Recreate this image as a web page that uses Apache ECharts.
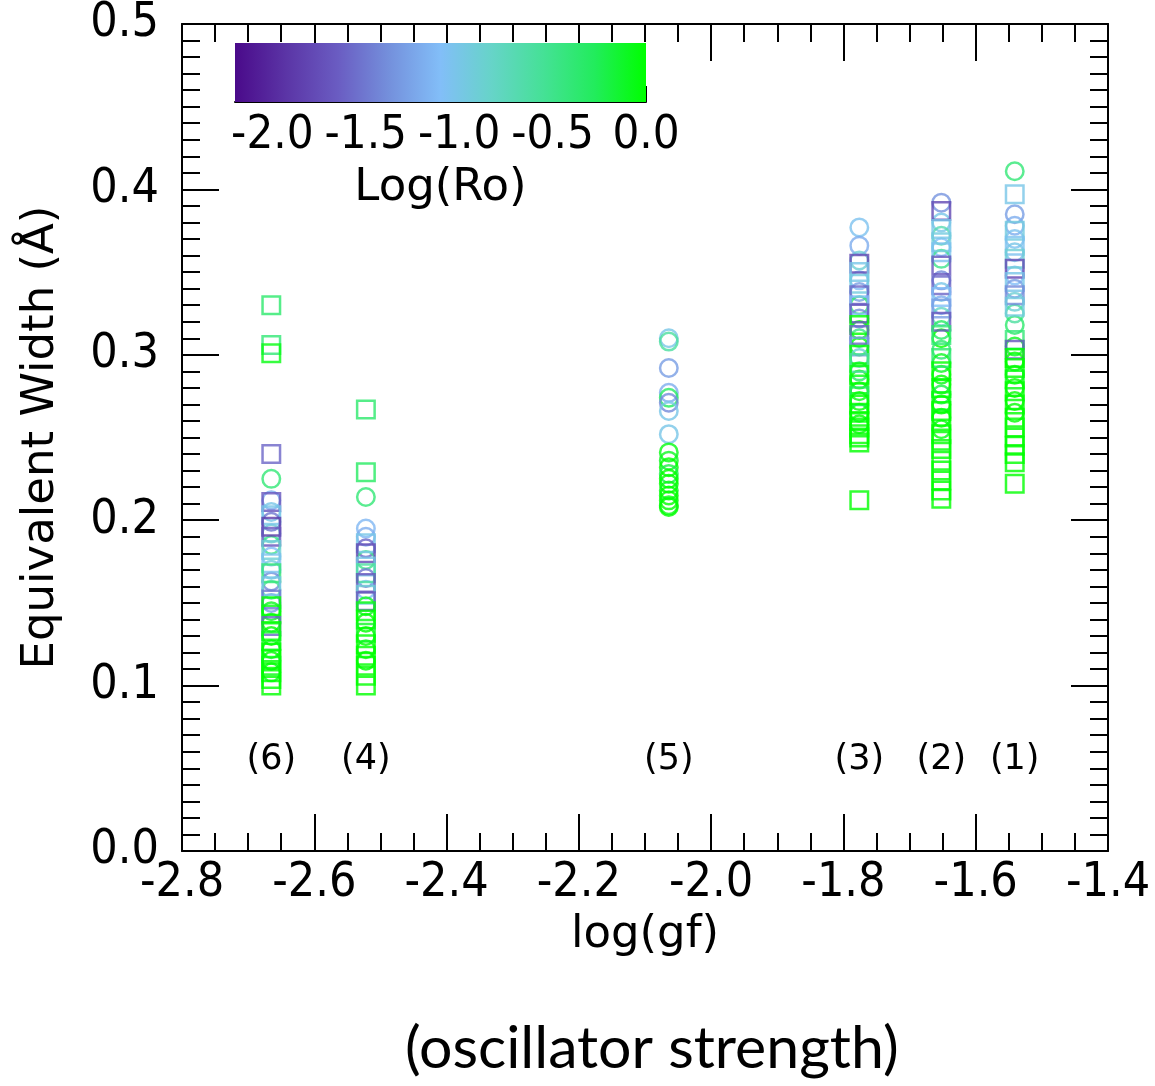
<!DOCTYPE html>
<html>
<head>
<meta charset="utf-8">
<script src="https://cdn.jsdelivr.net/npm/echarts@6/dist/echarts.min.js"></script>
<style>
  html, body { margin: 0; padding: 0; background: #ffffff; }
  #chart { width: 1155px; height: 1086px; }
</style>
</head>
<body>
<div id="chart"></div>
<script>
// Line positions (log gf) and their identifiers
const lineX = [-2.665, -2.522, -2.064, -1.776, -1.652, -1.541];
const lineLabels = ['(6)', '(4)', '(5)', '(3)', '(2)', '(1)'];
const lineLabelY = 0.055;

// Measurements per line: [equivalent width (Å), log(Ro)]
// circles and squares are two separate samples
const circles6 = [[0.225,-0.4],[0.212,-1.2],[0.205,-1.0],[0.199,-1.5],[0.192,-0.9],[0.185,-0.5],[0.178,-1.1],[0.170,-0.95],[0.163,-1.4],[0.158,-0.6],[0.150,-1.3],[0.145,-0.1],[0.138,-0.05],[0.130,0.0],[0.122,-0.1],[0.115,0.0],[0.108,-0.05]];
const squares6 = [[0.330,-0.35],[0.306,-0.4],[0.301,-0.05],[0.240,-1.6],[0.211,-1.7],[0.203,-1.0],[0.196,-1.9],[0.190,-1.7],[0.182,-0.9],[0.174,-1.05],[0.168,-0.4],[0.160,-1.0],[0.152,-1.5],[0.148,0.0],[0.143,-0.05],[0.136,-1.6],[0.133,0.0],[0.127,-0.1],[0.120,0.0],[0.116,0.0],[0.112,-0.05],[0.108,0.0],[0.104,0.0],[0.100,0.0]];

const circles4 = [[0.214,-0.4],[0.195,-1.15],[0.190,-1.2],[0.183,-1.6],[0.176,-0.5],[0.165,-1.5],[0.158,-1.1],[0.148,-0.1],[0.138,0.0],[0.130,0.0],[0.122,-0.05],[0.115,0.0]];
const squares4 = [[0.267,-0.35],[0.229,-0.3],[0.186,-1.0],[0.180,-1.8],[0.172,-1.0],[0.168,-0.6],[0.162,-1.7],[0.155,-0.9],[0.151,-1.7],[0.145,-0.05],[0.140,0.0],[0.132,-0.1],[0.125,0.0],[0.118,0.0],[0.112,0.0],[0.106,0.0],[0.100,0.0]];

const circles5 = [[0.310,-1.0],[0.308,-0.6],[0.292,-1.3],[0.277,-1.2],[0.274,-0.3],[0.271,-1.4],[0.266,-1.0],[0.252,-1.0],[0.241,-0.05],[0.236,-0.1],[0.232,0.0],[0.228,-0.2],[0.225,0.0],[0.222,0.0],[0.218,-0.05],[0.215,0.0],[0.212,0.0],[0.209,-0.05],[0.208,0.0]];
const squares5 = [];

const circles3 = [[0.377,-1.05],[0.366,-1.2],[0.357,-0.9],[0.345,-1.1],[0.338,-1.3],[0.330,-0.4],[0.322,-1.4],[0.315,0.0],[0.310,-0.5],[0.305,-0.05],[0.298,-0.9],[0.290,-0.3],[0.285,0.0],[0.278,-0.05],[0.272,0.0],[0.265,-0.1],[0.258,0.0]];
const squares3 = [[0.355,-1.8],[0.350,-1.0],[0.343,-0.95],[0.336,-1.6],[0.330,-1.1],[0.325,-1.7],[0.318,0.0],[0.312,-1.6],[0.305,-1.3],[0.300,0.0],[0.295,-0.6],[0.288,0.0],[0.282,-0.05],[0.275,-0.3],[0.270,0.0],[0.265,0.0],[0.260,0.0],[0.256,0.0],[0.252,0.0],[0.250,0.0],[0.247,0.0],[0.212,0.0]];

const circles2 = [[0.392,-1.35],[0.380,-1.0],[0.372,-0.7],[0.365,-1.1],[0.358,-0.5],[0.345,-1.4],[0.338,-1.0],[0.330,-1.2],[0.323,-0.8],[0.315,-0.3],[0.310,0.0],[0.303,-0.35],[0.295,-0.1],[0.288,-0.05],[0.282,0.0],[0.276,-0.2],[0.270,0.0],[0.262,0.0],[0.255,-0.05]];
const squares2 = [[0.387,-1.8],[0.376,-1.0],[0.368,-0.95],[0.362,-1.05],[0.354,-1.7],[0.342,-1.6],[0.335,-1.1],[0.328,-1.3],[0.320,-1.7],[0.312,-0.4],[0.298,-0.35],[0.290,0.0],[0.280,0.0],[0.272,-0.05],[0.266,0.0],[0.260,0.0],[0.252,0.0],[0.248,0.0],[0.243,0.0],[0.236,0.0],[0.230,0.0],[0.224,0.0],[0.218,0.0],[0.213,0.0]];

const circles1 = [[0.411,-0.4],[0.385,-1.3],[0.378,-1.2],[0.370,-1.05],[0.362,-1.0],[0.348,-1.1],[0.340,-1.3],[0.332,-0.9],[0.325,-0.6],[0.318,-0.35],[0.305,-0.1],[0.296,0.0],[0.288,-0.05],[0.280,0.0],[0.272,0.0],[0.265,0.0]];
const squares1 = [[0.397,-1.0],[0.375,-0.95],[0.366,-1.05],[0.358,-0.9],[0.352,-1.8],[0.344,-1.0],[0.336,-1.4],[0.329,-0.95],[0.309,-0.4],[0.303,-1.7],[0.298,0.0],[0.292,0.0],[0.285,-0.05],[0.278,0.0],[0.270,0.0],[0.262,0.0],[0.256,0.0],[0.250,0.0],[0.245,0.0],[0.240,0.0],[0.235,0.0],[0.222,0.0]];

const circleSets = [circles6, circles4, circles5, circles3, circles2, circles1];
const squareSets = [squares6, squares4, squares5, squares3, squares2, squares1];

// Colour scale for log(Ro)
const roMin = -2.2, roMax = 0.0;
const roColors = ['#4a0a8a', '#5b35a6', '#6a5cc2', '#7490dc', '#82bef8', '#66d4c8', '#45e196', '#22ec5c', '#00ff00'];
const roMajorTicks = [-2.0, -1.5, -1.0, -0.5, 0.0];
const roMinorTicks = [-2.1, -1.9, -1.8, -1.7, -1.6, -1.4, -1.3, -1.2, -1.1, -0.9, -0.8, -0.7, -0.6, -0.4, -0.3, -0.2, -0.1];

// Flatten into [log gf, W, log Ro]
function toPoints(sets) {
  const out = [];
  sets.forEach((set, i) => set.forEach(p => out.push([lineX[i], p[0], p[1]])));
  return out;
}
const circleData = toPoints(circleSets);
const squareData = toPoints(squareSets);

// Hollow marker outlines (filled ring / frame so overlaps stay visible)
const ringPath = 'path://M0,10A10,10,0,1,1,20,10A10,10,0,1,1,0,10Z M2.5,10A7.5,7.5,0,1,0,17.5,10A7.5,7.5,0,1,0,2.5,10Z';
const framePath = 'path://M0,0L20,0L20,20L0,20Z M2.5,2.5L2.5,17.5L17.5,17.5L17.5,2.5Z';

const TICK_FONT = "'DejaVu Sans Condensed', 'DejaVu Sans', sans-serif";
const NAME_FONT = "'DejaVu Sans', sans-serif";
const axisLineStyle = { color: '#000', width: 2 };
const nameStyle = { fontSize: 45, fontFamily: NAME_FONT, color: '#000' };

function mainX(pos, showLabels) {
  return {
    type: 'value', gridIndex: 0, position: pos,
    min: -2.8, max: -1.4, interval: 0.2,
    axisLine: { show: true, onZero: false, lineStyle: axisLineStyle },
    axisTick: { show: true, inside: true, length: 37, lineStyle: { color: '#000', width: 2 } },
    minorTick: { show: true, splitNumber: 4, length: 18, lineStyle: { color: '#000', width: 2 } },
    splitLine: { show: false }, minorSplitLine: { show: false },
    axisLabel: { show: showLabels, formatter: v => v.toFixed(1), fontSize: 48, fontFamily: TICK_FONT, color: '#000', margin: 9 },
    name: showLabels ? 'log(gf)' : '', nameLocation: 'middle', nameGap: 58,
    nameTextStyle: nameStyle
  };
}
function mainY(pos, showLabels) {
  return {
    type: 'value', gridIndex: 0, position: pos,
    min: 0, max: 0.5, interval: 0.1,
    axisLine: { show: true, onZero: false, lineStyle: axisLineStyle },
    axisTick: { show: true, inside: true, length: 37, lineStyle: { color: '#000', width: 2 } },
    minorTick: { show: true, splitNumber: 10, length: 18, lineStyle: { color: '#000', width: 2 } },
    splitLine: { show: false }, minorSplitLine: { show: false },
    axisLabel: { show: showLabels, formatter: v => v.toFixed(1), fontSize: 48, fontFamily: TICK_FONT, color: '#000', margin: 23 },
    name: showLabels ? 'Equivalent Width (Å)' : '', nameLocation: 'middle', nameGap: 118,
    nameTextStyle: nameStyle
  };
}

const chart = echarts.init(document.getElementById('chart'), null, { renderer: 'canvas' });

const option = {
  backgroundColor: '#ffffff',
  animation: false,
  title: {
    text: '(oscillator strength)',
    left: 400, top: 1014,
    textStyle: { fontFamily: "Lato, 'Open Sans', sans-serif", fontSize: 59, fontWeight: 'normal', color: '#000' }
  },
  grid: [
    { left: 182, top: 23, width: 926, height: 828 },
    { left: 235, top: 43, width: 411, height: 59 }
  ],
  xAxis: [
    mainX('bottom', true),
    mainX('top', false),
    {
      type: 'value', gridIndex: 1, position: 'bottom', min: roMin, max: roMax,
      axisLine: { show: true, onZero: false, lineStyle: axisLineStyle },
      axisTick: { show: true, inside: true, length: 16, customValues: roMajorTicks, lineStyle: { color: '#000', width: 2 } },
      axisLabel: { show: true, customValues: roMajorTicks, formatter: v => v.toFixed(1), fontSize: 47, fontFamily: TICK_FONT, color: '#000', margin: 10 },
      splitLine: { show: false },
      name: 'Log(Ro)', nameLocation: 'middle', nameGap: 64,
      nameTextStyle: nameStyle
    },
    {
      type: 'value', gridIndex: 1, position: 'bottom', min: roMin, max: roMax,
      axisLine: { show: false },
      axisTick: { show: true, inside: true, length: 8, customValues: roMinorTicks, lineStyle: { color: '#000', width: 2 } },
      axisLabel: { show: false },
      splitLine: { show: false }
    }
  ],
  yAxis: [
    mainY('left', true),
    mainY('right', false),
    { type: 'value', gridIndex: 1, min: 0, max: 1, show: false }
  ],
  visualMap: {
    show: false, type: 'continuous', min: roMin, max: roMax, dimension: 2,
    seriesIndex: [0, 1],
    inRange: { color: roColors }
  },
  series: [
    {
      type: 'scatter', xAxisIndex: 0, yAxisIndex: 0,
      symbol: ringPath, symbolSize: 20, data: circleData
    },
    {
      type: 'scatter', xAxisIndex: 0, yAxisIndex: 0,
      symbol: framePath, symbolSize: 20, data: squareData
    },
    {
      type: 'scatter', xAxisIndex: 0, yAxisIndex: 0,
      symbolSize: 1, silent: true,
      itemStyle: { color: 'rgba(0,0,0,0)' },
      label: {
        show: true, position: 'inside', formatter: p => p.name,
        fontSize: 35, fontFamily: NAME_FONT, color: '#000',
        textBorderWidth: 0, opacity: 1
      },
      data: lineX.map((x, i) => ({ name: lineLabels[i], value: [x, lineLabelY] }))
    },
    {
      type: 'custom', xAxisIndex: 2, yAxisIndex: 2, silent: true,
      data: [[roMin, roMax]],
      renderItem: (params, api) => {
        const p0 = api.coord([api.value(0), 0]);
        const p1 = api.coord([api.value(1), 1]);
        const stops = roColors.map((c, i) => ({ offset: i / (roColors.length - 1), color: c }));
        return {
          type: 'rect',
          shape: { x: p0[0], y: p1[1], width: p1[0] - p0[0], height: p0[1] - p1[1] },
          style: { fill: new echarts.graphic.LinearGradient(0, 0, 1, 0, stops) }
        };
      }
    }
  ]
};
chart.setOption(option);
</script>
</body>
</html>
